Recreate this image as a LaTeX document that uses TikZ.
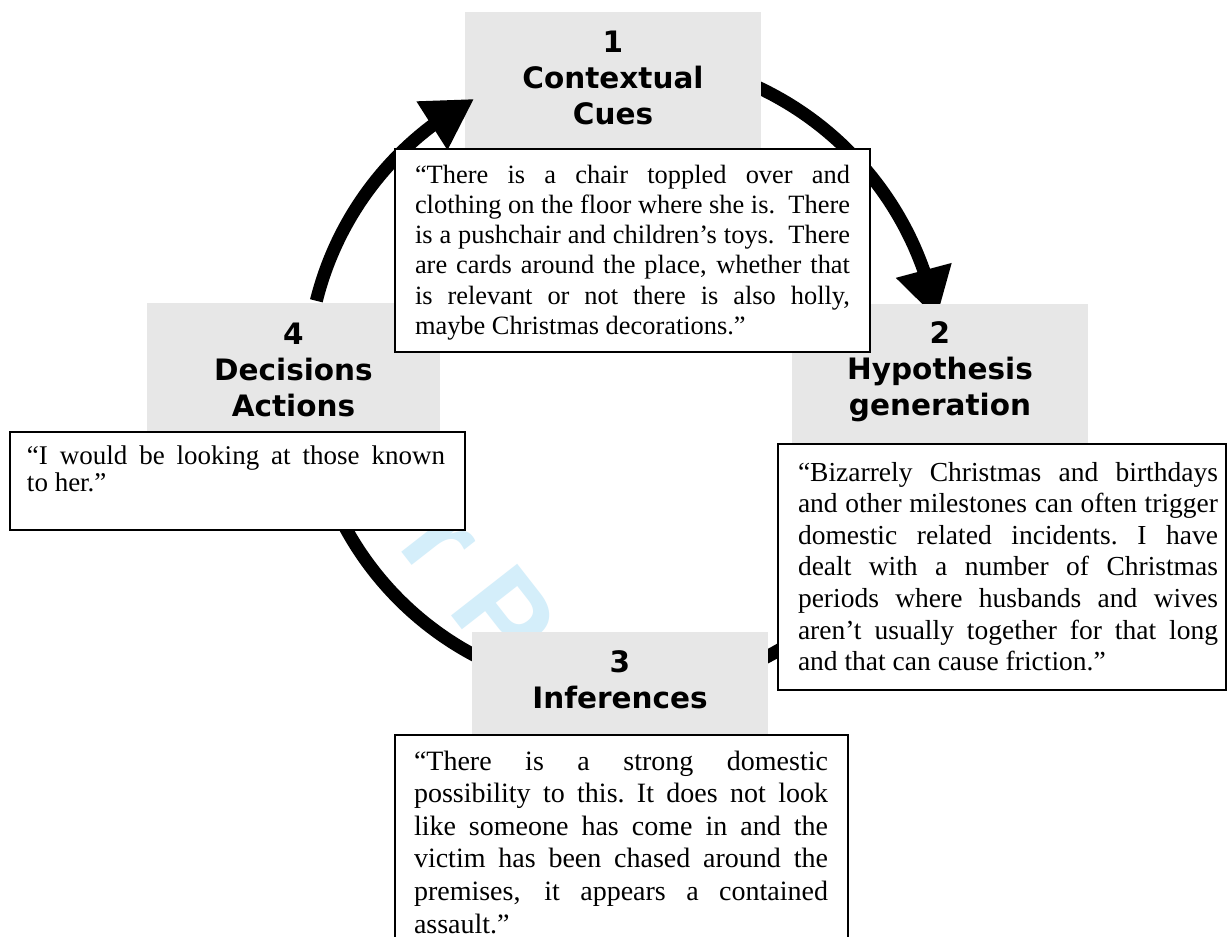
\documentclass[tikz,border=0pt]{standalone}
\usepackage{fontspec}
\setmainfont{Liberation Serif}
\newfontfamily\headfont{DejaVu Sans}
\newfontfamily\markfont{Liberation Sans}
\usetikzlibrary{arrows.meta,bending}
\definecolor{boxgrey}{RGB}{231,231,231}
\definecolor{markcyan}{RGB}{212,238,250}
\newlength\qpad
\newlength\qwid
% one justified line, and the last (ragged) line of a quotation
\newcommand\jl[1]{\hbox to \hsize{\kern\qpad\hbox to \qwid{#1}\hss}}
\newcommand\jlast[1]{\hbox to \hsize{\kern\qpad\hbox to \qwid{#1\hfil}\hss}}
% one centred heading line
\newcommand\hd[1]{\hbox to \hsize{\hss#1\hss}}
\begin{document}
\begin{tikzpicture}[x=1pt,y=-1pt,
  stage/.style={fill=boxgrey, inner sep=0pt, outer sep=0pt, anchor=north west,
    font=\headfont\bfseries\fontsize{29.5}{36}\selectfont},
  quote/.style={draw=black, line width=1.6pt, fill=white, inner sep=0pt,
    outer sep=0pt, anchor=north west},
  cyc arrow/.style={line width=13pt, -{Triangle[width=54pt,length=50pt]}},
  watermark/.style={font=\markfont\bfseries\fontsize{122}{122}\selectfont,
    text=markcyan, rotate=-52, anchor=base west, inner sep=0pt}
]
\useasboundingbox (0,0) rectangle (1227,937);
\clip (0,0) rectangle (1227,937);
\fill[white] (0,0) rectangle (1227,937);

% background watermark
\node[watermark] (wm) at (305,428) {For Peer Review};

% the cycle of arrows (the one into stage 1 is drawn above the grey boxes)
\coordinate (ctr) at (622,377);
\draw[cyc arrow] ([shift={(290:320)}]ctr) arc[start angle=290, end angle=349.5, radius=320];
\draw[cyc arrow] ([shift={(20:315)}]ctr) arc[start angle=20, end angle=80, radius=315];
\draw[cyc arrow] ([shift={(100:315)}]ctr) arc[start angle=100, end angle=165, radius=315];

% stage headings
\node[stage] (s1) at (465,12) {\vbox to 150pt{\hsize=296pt\kern4pt\hbox{}\hd{1}\hd{Contextual}\hd{Cues}\vss}};
\node[stage] (s2) at (792,304) {\vbox to 150pt{\hsize=296pt\kern3.5pt\hbox{}\hd{2}\hd{Hypothesis}\hd{generation}\vss}};
\node[stage] (s3) at (472,632) {\vbox to 150pt{\hsize=296pt\kern4pt\hbox{}\hd{3}\hd{Inferences}\vss}};
\node[stage] (s4) at (147,303) {\vbox to 150pt{\hsize=293pt\kern5.5pt\hbox{}\hd{4}\hd{Decisions}\hd{Actions}\vss}};

\draw[cyc arrow] ([shift={(194:315)}]ctr) arc[start angle=194, end angle=242, radius=315];

% quotations
\node[quote] (q1) at (395,149) {\fontsize{26.4}{30.2}\selectfont
  \setlength\qpad{20pt}\setlength\qwid{435pt}%
  \vbox to 203pt{\hsize=475pt\kern4pt\hbox{}%
  \jl{“There is a chair toppled over and}%
  \jl{clothing on the floor where she is.\ \ There}%
  \jl{is a pushchair and children’s toys.\ \ There}%
  \jl{are cards around the place, whether that}%
  \jl{is relevant or not there is also holly,}%
  \jlast{maybe Christmas decorations.”}\vss}};

\node[quote] (q2) at (778,444) {\fontsize{27.5}{31.6}\selectfont
  \setlength\qpad{20pt}\setlength\qwid{420pt}%
  \vbox to 246pt{\hsize=448pt\kern5.4pt\hbox{}%
  \jl{“Bizarrely Christmas and birthdays}%
  \jl{and other milestones can often trigger}%
  \jl{domestic related incidents.\ I have}%
  \jl{dealt with a number of Christmas}%
  \jl{periods where husbands and wives}%
  \jl{aren’t usually together for that long}%
  \jlast{and that can cause friction.”}\vss}};

\node[quote] (q3) at (395,735) {\fontsize{28}{32.6}\selectfont
  \setlength\qpad{19pt}\setlength\qwid{414pt}%
  \vbox to 215pt{\hsize=453pt\kern2.4pt\hbox{}%
  \jl{“There is a strong domestic}%
  \jl{possibility to this.\ It does not look}%
  \jl{like someone has come in and the}%
  \jl{victim has been chased around the}%
  \jl{premises, it appears a contained}%
  \jlast{assault.”}\vss}};

\node[quote] (q4) at (10,432) {\fontsize{27}{26.5}\selectfont
  \setlength\qpad{17pt}\setlength\qwid{418pt}%
  \vbox to 98pt{\hsize=455pt\kern6pt\hbox{}%
  \jl{“I would be looking at those known}%
  \jlast{to her.”}\vss}};
\end{tikzpicture}
\end{document}
